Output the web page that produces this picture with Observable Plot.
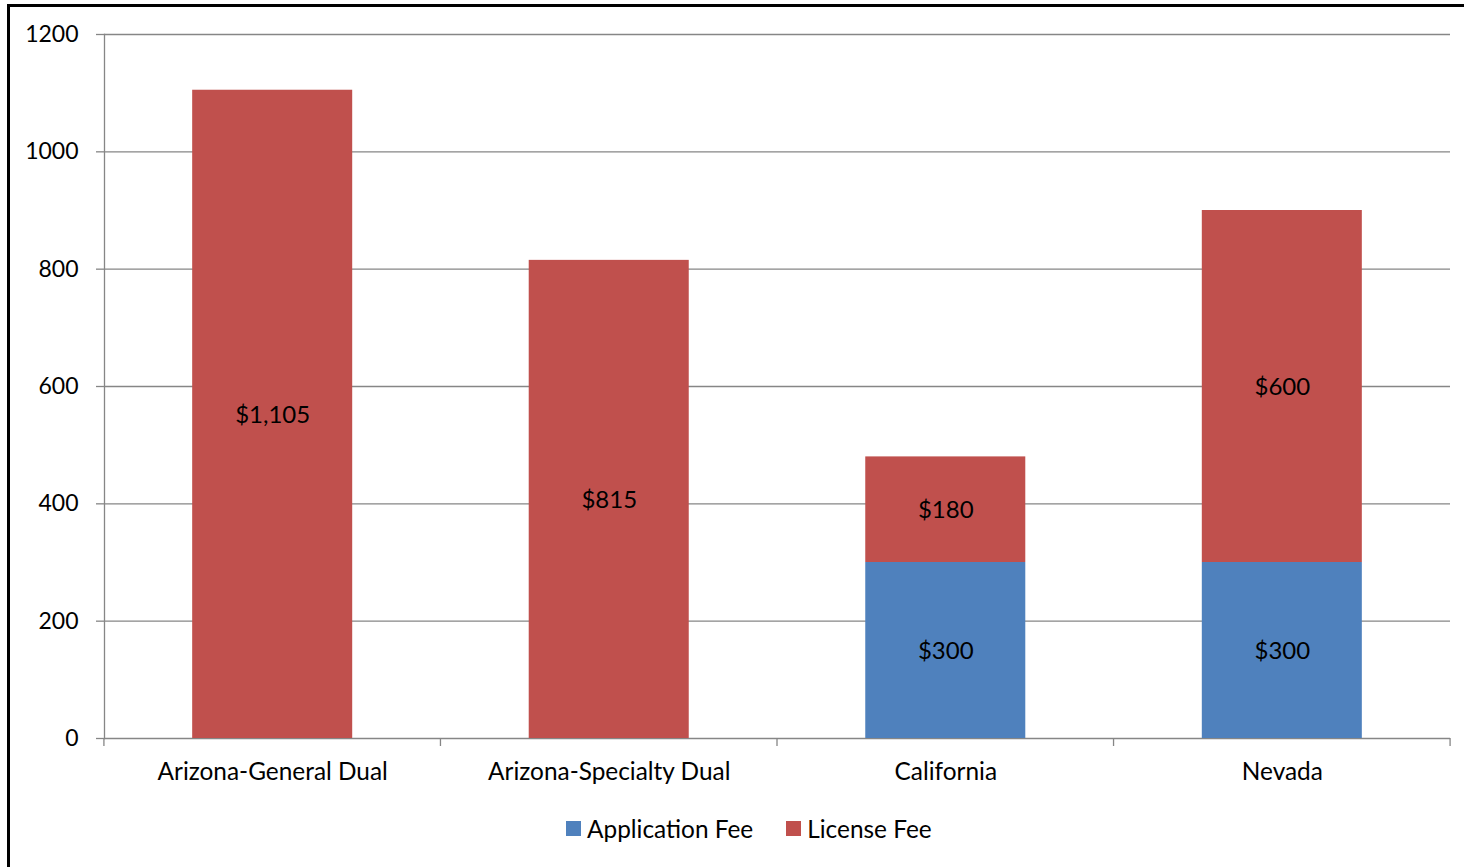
<!DOCTYPE html>
<html><head><meta charset="utf-8">
<script src="https://cdn.jsdelivr.net/npm/d3@7"></script>
<script src="https://cdn.jsdelivr.net/npm/@observablehq/plot@0.6"></script>
<style>
html,body{margin:0;padding:0;overflow:hidden;background:#fff;font-family:Lato,sans-serif;}
#frame{position:absolute;left:7px;top:4px;width:1600px;height:1000px;border:3px solid #000;box-sizing:border-box;}
#chart{position:absolute;left:0;top:0;}
#legend{position:absolute;left:566px;top:814px;display:flex;align-items:center;font-size:24.4px;color:#000;white-space:nowrap;}
.item{display:flex;align-items:center;margin-right:33px;}
.sw{width:15px;height:15px;margin-right:6px;display:inline-block;}
</style></head>
<body>
<div id="frame"></div>
<div id="chart"></div>
<div id="legend"></div>
<script>
const categories = ["Arizona-General Dual","Arizona-Specialty Dual","California","Nevada"];
const applicationFee = [0, 0, 300, 300];
const licenseFee = [1105, 815, 180, 600];
const seriesNames = ["Application Fee","License Fee"];
const seriesColors = ["#4F81BD","#C0504D"];
const yTicks = [0, 200, 400, 600, 800, 1000, 1200];

const data = [];
categories.forEach((c, i) => {
  data.push({category: c, series: seriesNames[0], value: applicationFee[i]});
  data.push({category: c, series: seriesNames[1], value: licenseFee[i]});
});
const fmt = d3.format("$,");
const gridColor = "#868686";

const plot = Plot.plot({
  width: 1464, height: 800,
  marginTop: 34, marginBottom: 62, marginLeft: 104, marginRight: 14,
  style: {fontFamily: "Lato, sans-serif", fontSize: "24px", color: "#000", background: "transparent"},
  x: {domain: categories, paddingInner: 0.5245, paddingOuter: 0.262, round: false, label: null},
  y: {domain: [0, 1200], label: null},
  color: {domain: seriesNames, range: seriesColors},
  marks: [
    Plot.gridY(yTicks, {stroke: gridColor, strokeOpacity: 1, strokeWidth: 1.3}),
    Plot.frame({anchor: "left", stroke: gridColor, strokeWidth: 1.3}),
    Plot.axisY(yTicks, {tickSize: 8, tickPadding: 18, stroke: gridColor, strokeWidth: 1.3, fill: "#000", fontSize: 23, label: null, tickFormat: d => String(d)}),
    Plot.barY(data, {x: "category", y: "value", fill: "series", order: seriesNames}),
    Plot.text(data.filter(d => d.value > 0), Plot.stackY({x: "category", y: "value", z: "series", order: seriesNames, text: d => fmt(d.value), fill: "#000", fontSize: 24, dy: 1})),
    Plot.axisX({tickSize: 0, tickPadding: 24, fill: "#000", fontSize: 24.4, label: null})
  ]
});

// category boundary ticks below the baseline, positioned from the band scale
const xs = plot.scale("x"), ys = plot.scale("y");
const gap = (xs.step - xs.bandwidth) / 2;
const bounds = categories.map(c => xs.apply(c) - gap);
bounds.push(xs.apply(categories[categories.length - 1]) + xs.bandwidth + gap);
const y0 = ys.apply(0);
d3.select(plot).append("g")
  .selectAll("line").data(bounds).join("line")
  .attr("x1", d => d).attr("x2", d => d)
  .attr("y1", y0).attr("y2", y0 + 8)
  .attr("stroke", gridColor).attr("stroke-width", 1.3);

document.getElementById("chart").appendChild(plot);

const legend = d3.select("#legend");
seriesNames.forEach((s, i) => {
  const it = legend.append("div").attr("class", "item");
  it.append("span").attr("class", "sw").style("background", seriesColors[i]);
  it.append("span").text(s);
});
</script>
</body></html>
